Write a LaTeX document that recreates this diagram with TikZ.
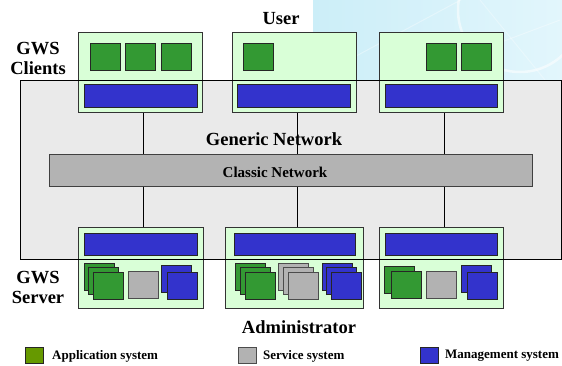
\documentclass[tikz,border=0pt]{standalone}
\usepackage{fontspec}
\setmainfont{Liberation Serif}
\definecolor{hostgreen}{RGB}{217,255,215}
\definecolor{appgreen}{RGB}{51,153,51}
\definecolor{mgmtblue}{RGB}{51,51,204}
\definecolor{svcgray}{RGB}{178,178,178}
\definecolor{netgray}{RGB}{234,234,234}
\definecolor{classgray}{RGB}{179,179,179}
\definecolor{legendgreen}{RGB}{102,153,0}
\definecolor{skyblue}{RGB}{204,238,248}
\definecolor{skypale}{RGB}{226,246,252}
\begin{document}
\begin{tikzpicture}[x=1pt,y=-1pt,
  lbl/.style={font=\bfseries\fontsize{18.5}{20}\selectfont, inner sep=0pt},
  small/.style={font=\bfseries\fontsize{13}{15}\selectfont, inner sep=0pt},
  host/.style={draw=black!80, fill=hostgreen, line width=0.8pt, inner sep=0pt, outer sep=0pt, anchor=north west},
  mgmtbar/.style={draw=black!85, fill=mgmtblue, line width=0.8pt, inner sep=0pt, outer sep=0pt, anchor=north west, minimum height=23pt},
  appsq/.style={draw=black!85, fill=appgreen, line width=0.8pt},
  svcsq/.style={draw=black!70, fill=svcgray, line width=0.8pt},
  mgmtsq/.style={draw=black!85, fill=mgmtblue, line width=0.8pt},
  link/.style={draw=black, line width=0.8pt}
]
\useasboundingbox (0,0) rectangle (562,365);

% square of 30 x 27 with its top left corner at (#2,#3)
\newcommand{\unitsq}[3]{\draw[#1] (#2,#3) rectangle ++(30,27);}

% decorative sky backdrop, top right
\shade[left color=skyblue, right color=skypale] (313,0) rectangle (562,80);
\begin{scope}
  \clip (313,0) rectangle (562,80);
  \draw[white, opacity=0.55, line width=2.5pt] (520,10) circle (62);
  \draw[white, opacity=0.35, line width=1pt] (330,70) -- (470,-5);
  \draw[white, opacity=0.35, line width=1pt] (400,80) -- (560,20);
  \draw[white, opacity=0.3, line width=1pt] (480,0) -- (545,80);
\end{scope}

% generic network area (fill only, outline drawn later on top)
\node[fill=netgray, inner sep=0pt, outer sep=0pt, anchor=north west,
      minimum width=541.5pt, minimum height=179pt] (gn) at (20,80) {};

% client and server hosts
\node[host, minimum width=124pt, minimum height=80pt] (c1) at (78,32) {};
\node[host, minimum width=124pt, minimum height=80pt] (c2) at (232,32) {};
\node[host, minimum width=124pt, minimum height=80pt] (c3) at (379,32) {};
\node[host, minimum width=125pt, minimum height=81pt] (s1) at (78,227) {};
\node[host, minimum width=138pt, minimum height=81pt] (s2) at (225,227) {};
\node[host, minimum width=124pt, minimum height=81pt] (s3) at (379,227) {};

% links from clients to servers, passing behind the classic network
\draw[link] ([xshift=3pt]c1.south) -- ([xshift=3pt]c1.south |- s1.north);
\draw[link] ([xshift=3pt]c2.south) -- ([xshift=3pt]c2.south |- s2.north);
\draw[link] ([xshift=3pt]c3.south) -- ([xshift=3pt]c3.south |- s3.north);

% classic network bar
\node[draw=black!75, fill=classgray, line width=0.8pt, inner sep=0pt, outer sep=0pt,
      anchor=north west, minimum width=483pt, minimum height=32pt] (cn) at (49,154) {};
\node[small, font=\bfseries\fontsize{15}{17}\selectfont] (cnl) at (275,172) {Classic Network};

% redraw host boxes over the links
\node[host, minimum width=124pt, minimum height=80pt] at (78,32) {};
\node[host, minimum width=124pt, minimum height=80pt] at (232,32) {};
\node[host, minimum width=124pt, minimum height=80pt] at (379,32) {};
\node[host, minimum width=125pt, minimum height=81pt] at (78,227) {};
\node[host, minimum width=138pt, minimum height=81pt] at (225,227) {};
\node[host, minimum width=124pt, minimum height=81pt] at (379,227) {};

% management bars
\node[mgmtbar, minimum width=113pt] (cb1) at (84,84) {};
\node[mgmtbar, minimum width=113pt] (cb2) at (237,84) {};
\node[mgmtbar, minimum width=112pt] (cb3) at (385,84) {};
\node[mgmtbar, minimum width=113pt, minimum height=22pt] (sb1) at (84,233) {};
\node[mgmtbar, minimum width=121pt, minimum height=22pt] (sb2) at (234,233) {};
\node[mgmtbar, minimum width=112pt, minimum height=22pt] (sb3) at (385,233) {};

% client applications
\unitsq{appsq}{90}{43}
\unitsq{appsq}{125}{43}
\unitsq{appsq}{161}{43}
\unitsq{appsq}{243}{43}
\unitsq{appsq}{426}{43}
\unitsq{appsq}{461}{43}

% server 1
\unitsq{appsq}{84}{263}
\unitsq{appsq}{88.5}{267.5}
\unitsq{appsq}{93}{272}
\unitsq{svcsq}{128}{271}
\unitsq{mgmtsq}{161}{265}
\unitsq{mgmtsq}{167}{272}

% server 2
\unitsq{appsq}{235}{263}
\unitsq{appsq}{240}{267.5}
\unitsq{appsq}{245}{272}
\unitsq{svcsq}{278}{263}
\unitsq{svcsq}{283}{267.5}
\unitsq{svcsq}{288}{272}
\unitsq{mgmtsq}{322}{263}
\unitsq{mgmtsq}{326.5}{267.5}
\unitsq{mgmtsq}{331}{272}

% server 3
\unitsq{appsq}{384}{266}
\unitsq{appsq}{391}{271}
\unitsq{svcsq}{426}{271}
\unitsq{mgmtsq}{461}{265}
\unitsq{mgmtsq}{467}{272}

% outline of the generic network area, over the hosts
\draw[black, line width=0.8pt] (gn.north west) rectangle (gn.south east);

% labels
\node[lbl] (user) at (281,19) {User};
\node[lbl, align=center] (gwsc) at (38,58) {GWS\\Clients};
\node[lbl] (gnl) at (274,139) {Generic Network};
\node[lbl, align=center] (gwss) at (38,287) {GWS\\Server};
\node[lbl] (admin) at (299,327) {Administrator};

% legend
\draw[draw=black!85, fill=legendgreen, line width=0.8pt] (25,347) rectangle (43,363);
\node[small, anchor=west] (la) at (52,356) {Application system};
\draw[draw=black!70, fill=svcgray, line width=0.8pt] (238,347) rectangle (256,363);
\node[small, anchor=west] (ls) at (263,356) {Service system};
\draw[draw=black!85, fill=mgmtblue, line width=0.8pt] (420,347) rectangle (438,363);
\node[small, anchor=west] (lm) at (445,356) {Management system};
\end{tikzpicture}
\end{document}
